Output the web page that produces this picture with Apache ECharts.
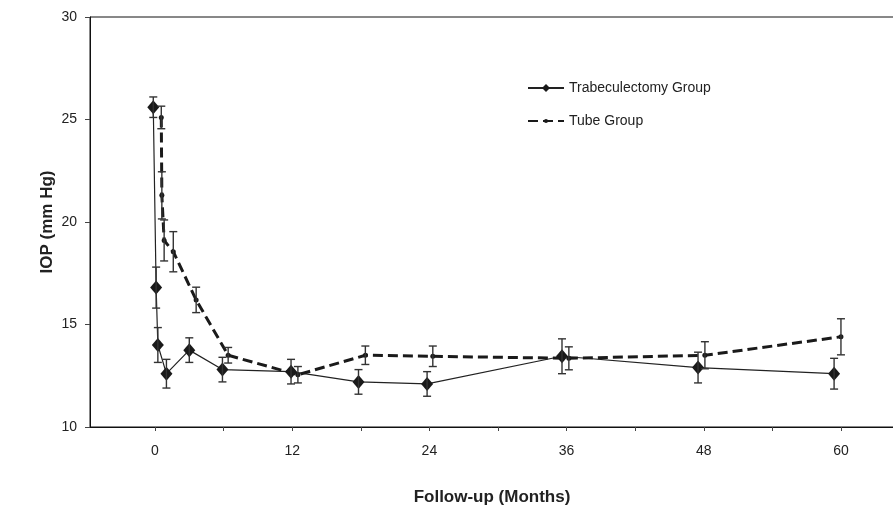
<!DOCTYPE html>
<html>
<head>
<meta charset="utf-8">
<script src="https://cdn.jsdelivr.net/npm/echarts@6/dist/echarts.min.js"></script>
<style>
html,body{margin:0;padding:0;background:#fff;}
#chart{width:893px;height:509px;}
</style>
</head>
<body>
<div id="chart"></div>
<script>
// ---- data ----
var trabName = 'Trabeculectomy Group';
var tubeName = 'Tube Group';
var trabX = [-0.15, 0.1, 0.25, 1.0, 3.0, 5.9, 11.9, 17.8, 23.8, 35.6, 47.5, 59.4];
var trabY = [25.6, 16.8, 14.0, 12.6, 13.75, 12.8, 12.7, 12.2, 12.1, 13.45, 12.9, 12.6];
var trabErr = [0.5, 1.0, 0.85, 0.7, 0.6, 0.6, 0.6, 0.6, 0.6, 0.85, 0.75, 0.75];
var tubeX = [0.55, 0.6, 0.8, 1.6, 3.6, 6.4, 12.5, 18.4, 24.3, 36.2, 48.1, 60.0];
var tubeY = [25.1, 21.3, 19.1, 18.55, 16.2, 13.5, 12.55, 13.5, 13.45, 13.35, 13.5, 14.4];
var tubeErr = [0.55, 1.15, 1.0, 0.98, 0.62, 0.38, 0.4, 0.45, 0.5, 0.56, 0.66, 0.88];
var xLabelValues = [0, 12, 24, 36, 48, 60];
var xTickValues = [0, 6, 12, 18, 24, 30, 36, 42, 48, 54, 60];

function pairs(xs, ys) { return xs.map(function (x, i) { return [x, ys[i]]; }); }
function errData(xs, ys, es) { return xs.map(function (x, i) { return [x, ys[i] - es[i], ys[i] + es[i]]; }); }

function errRender(params, api) {
  var x = api.value(0);
  var lo = api.coord([x, api.value(1)]);
  var hi = api.coord([x, api.value(2)]);
  var w = 4;
  var st = { stroke: '#333', lineWidth: 1.4, fill: null };
  return {
    type: 'group',
    children: [
      { type: 'line', shape: { x1: lo[0], y1: lo[1], x2: hi[0], y2: hi[1] }, style: st },
      { type: 'line', shape: { x1: lo[0] - w, y1: lo[1], x2: lo[0] + w, y2: lo[1] }, style: st },
      { type: 'line', shape: { x1: hi[0] - w, y1: hi[1], x2: hi[0] + w, y2: hi[1] }, style: st }
    ]
  };
}

var font = 'Liberation Sans, Arial, sans-serif';
var legendText = { fontFamily: font, fontSize: 14, color: '#222', lineHeight: 16 };
var chart = echarts.init(document.getElementById('chart'), null, { renderer: 'canvas' });
chart.setOption({
  animation: false,
  backgroundColor: '#fff',
  textStyle: { fontFamily: font },
  grid: { left: 90, right: -1, top: 17, bottom: 82, show: true, borderColor: '#111', borderWidth: 1,
          backgroundColor: 'transparent', containLabel: false, outerBoundsMode: 'none' },
  legend: [
    {
      data: [trabName], left: 527, top: 80, padding: 0,
      itemWidth: 36, itemHeight: 10, textStyle: legendText
    },
    {
      data: [tubeName], left: 527, top: 113, padding: 0,
      itemWidth: 36, itemHeight: 5, textStyle: legendText
    }
  ],
  xAxis: {
    type: 'value', min: -5.685, max: 64.64,
    axisLine: { show: true, onZero: false, lineStyle: { color: '#111', width: 1 } },
    axisTick: { show: true, customValues: xTickValues, length: 4, inside: false, lineStyle: { color: '#444' } },
    axisLabel: { customValues: xLabelValues, fontSize: 14, color: '#222', margin: 17, fontFamily: font },
    splitLine: { show: false },
    name: 'Follow-up (Months)', nameLocation: 'middle', nameGap: 62,
    nameTextStyle: { fontSize: 17, fontWeight: 'bold', color: '#222', fontFamily: font }
  },
  yAxis: {
    type: 'value', min: 10, max: 30, interval: 5,
    axisLine: { show: true, onZero: false, lineStyle: { color: '#111', width: 1 } },
    axisTick: { show: true, length: 5, lineStyle: { color: '#444' } },
    axisLabel: { fontSize: 14, color: '#222', margin: 13, fontFamily: font },
    splitLine: { show: false },
    name: 'IOP (mm Hg)', nameLocation: 'middle', nameGap: 34, nameRotate: 90, nameMoveOverlap: false,
    nameTextStyle: { fontSize: 17, fontWeight: 'bold', color: '#222', fontFamily: font }
  },
  series: [
    {
      name: trabName, type: 'line', data: pairs(trabX, trabY), z: 3,
      symbol: 'diamond', symbolSize: [12, 14],
      itemStyle: { color: '#1a1a1a' },
      lineStyle: { color: '#222', width: 1.2, type: 'solid' }
    },
    {
      name: tubeName, type: 'line', data: pairs(tubeX, tubeY), z: 4,
      symbol: 'circle', symbolSize: 5,
      itemStyle: { color: '#1a1a1a' },
      lineStyle: { color: '#1a1a1a', width: 3, type: [10, 5] }
    },
    { type: 'custom', data: errData(trabX, trabY, trabErr), renderItem: errRender, z: 5, silent: true },
    { type: 'custom', data: errData(tubeX, tubeY, tubeErr), renderItem: errRender, z: 5, silent: true }
  ]
});
</script>
</body>
</html>
